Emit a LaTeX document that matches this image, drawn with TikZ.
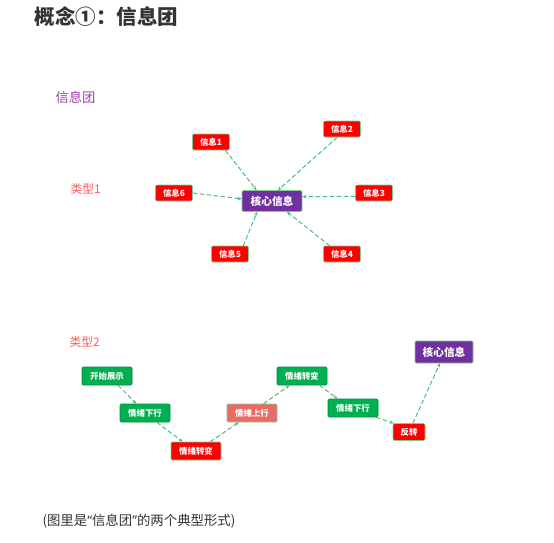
\documentclass[tikz,border=0pt]{standalone}
\usepackage{fontspec}
\setmainfont{Noto Sans CJK SC}
\newfontfamily\latinfont{Noto Sans}
\usetikzlibrary{arrows.meta, positioning, calc}

\definecolor{boxred}{RGB}{255,0,0}
\definecolor{boxgreen}{RGB}{0,176,80}
\definecolor{boxpurple}{RGB}{112,48,160}
\definecolor{boxsalmon}{RGB}{234,107,102}
\definecolor{rimgreen}{RGB}{130,200,150}
\definecolor{linkgreen}{RGB}{70,190,125}
\definecolor{titlegray}{RGB}{51,51,51}
\definecolor{labelpurple}{RGB}{160,60,170}
\definecolor{labelred}{RGB}{255,90,90}

\begin{document}
\begin{tikzpicture}[x=1pt, y=-1pt,
        box/.style={draw=rimgreen, line width=0.6pt, rounded corners=1.2pt, inner sep=0pt,
            text=white, font=\bfseries\fontsize{8.4}{9}\selectfont},
        infobox/.style={box, fill=boxred, minimum width=37pt, minimum height=16pt},
        corebox/.style={box, fill=boxpurple, minimum width=60pt, minimum height=21pt,
            font=\bfseries\fontsize{10.7}{12}\selectfont},
        stepbox/.style={box, fill=boxgreen, draw=boxgreen!80!black, minimum width=50pt, minimum height=18pt},
        link/.style={draw=linkgreen, line width=1pt, dash pattern=on 4.5pt off 2.5pt,
            -{Stealth[length=4pt, width=3.4pt, fill=linkgreen]}}
    ]
    \useasboundingbox (0,0) rectangle (554,542);

    % Headings
    \node[anchor=west, text=titlegray, font=\bfseries\fontsize{20.5}{24}\selectfont] (title) at (31,17) {概念①：信息团};
    \node[anchor=west, text=labelpurple, font=\fontsize{13.3}{15}\selectfont] (group) at (52,97) {信息团};
    \node[anchor=west, text=labelred, font=\fontsize{11.8}{14}\selectfont] (kind1) at (67,189) {类型1};
    \node[anchor=west, text=labelred, font=\fontsize{11.8}{14}\selectfont] (kind2) at (66,342) {类型2};

    % Type 1: messages round the core
    \node[corebox] (core) at (272,201) {核心信息};
    \node[infobox] (m1) at (211,142) {信息1};
    \node[infobox] (m2) at (342,129) {信息2};
    \node[infobox] (m3) at (374,193) {信息3};
    \node[infobox] (m4) at (342,254) {信息4};
    \node[infobox] (m5) at (230,254) {信息5};
    \node[infobox] (m6) at (174,193) {信息6};

    \draw[link] (m1.-30) -- (core.145);
    \draw[link] (m2.-120) -- (core.61);
    \draw[link] (m3.190) -- (core.8);
    \draw[link] (m4.146) -- (core.-36);
    \draw[link] (m5.32) -- (core.-144);
    \draw[link] (m6.east) -- (core.176);

    % Type 2: a path of moods
    \node[stepbox] (s1) at (107,376) {开始展示};
    \node[stepbox] (s2) at (145,413) {情绪下行};
    \node[stepbox, fill=boxred, draw=rimgreen] (s3) at (196,451) {情绪转变};
    \node[stepbox, fill=boxsalmon, draw=rimgreen] (s4) at (252,413) {情绪上行};
    \node[stepbox] (s5) at (302,376) {情绪转变};
    \node[stepbox] (s6) at (353,408) {情绪下行};
    \node[stepbox, fill=boxred, draw=rimgreen, minimum width=32pt, minimum height=17pt] (s7) at (409,432) {反转};
    \node[corebox, minimum width=58pt, minimum height=22pt] (core2) at (444,352) {核心信息};

    \draw[link] (s1.-40) -- (s2.133);
    \draw[link] (s2.-38) -- (s3.145);
    \draw[link] (s3.33) -- (s4.-145);
    \draw[link] (s4.39) -- (s5.-143);
    \draw[link] (s5.-28) -- (s6.149);
    \draw[link] (s6.-22) -- (s7.150);
    \draw[link] (s7.66) -- (core2.-110);

    % Caption
    \node[anchor=west, text=titlegray, font=\fontsize{13.4}{16}\selectfont] (caption) at (39,521)
        {(图里是{\latinfont“}信息团{\latinfont”}的两个典型形式)};
\end{tikzpicture}
\end{document}
